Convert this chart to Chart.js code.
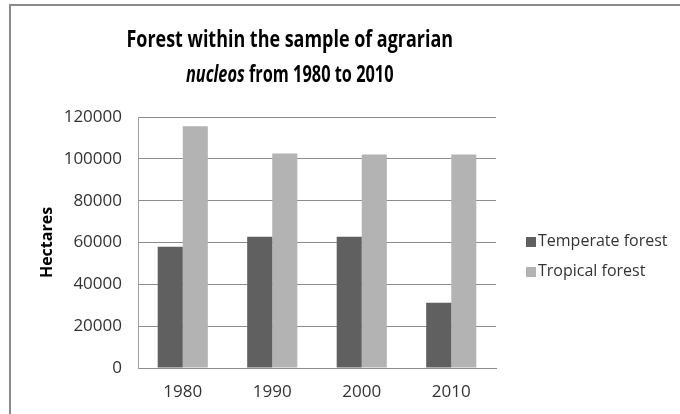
<!DOCTYPE html>
<html>
<head>
<meta charset="utf-8">
<script src="https://cdn.jsdelivr.net/npm/chart.js@4.4.0/dist/chart.umd.min.js"></script>
<style>
  html, body { margin: 0; padding: 0; background: #fff; }
  #wrap { position: relative; width: 680px; height: 414px; overflow: hidden; font-family: "Open Sans", sans-serif; }
  #frame { position: absolute; left: 9px; top: 4px; width: 700px; height: 430px; border: 2px solid #8a8a8a; box-sizing: border-box; }
  #title { position: absolute; left: 0; top: 21px; width: 580px; text-align: center; font-weight: bold; font-size: 23px; line-height: 35px; color: #000; }
  #title div { transform-origin: 289px 0; }
  #title .l1 { transform: scaleX(0.78); }
  #title .l2 { transform: scaleX(0.71); }
  #legend { position: absolute; left: 526px; top: 228px; font-size: 16px; color: #333; }
  #legend div { height: 30px; line-height: 24px; white-space: nowrap; }
  #legend span { display: inline-block; width: 10px; height: 10px; margin-right: 2px; vertical-align: -1px; }
  canvas { position: absolute; left: 0; top: 0; }
</style>
</head>
<body>
<div id="wrap">
  <div id="frame"></div>
  <canvas id="forest_chart" width="680" height="414"></canvas>
  <div id="title">
    <div class="l1">Forest within the sample of agrarian</div>
    <div class="l2"><i>nucleos</i> from 1980 to 2010</div>
  </div>
  <div id="legend"></div>
</div>
<script>
const years = ['1980', '1990', '2000', '2010'];
const temperate_forest = [58000, 62800, 62800, 31200];
const tropical_forest = [115600, 102600, 102100, 102100];
const y_ticks = [0, 20000, 40000, 60000, 80000, 100000, 120000];

const series = [
    { label: 'Temperate forest', data: temperate_forest, color: '#606060' },
    { label: 'Tropical forest', data: tropical_forest, color: '#b3b3b3' }
];

const ctx = document.getElementById('forest_chart');
const forest_chart = new Chart(ctx, {
    type: 'bar',
    data: {
        labels: years,
        datasets: series.map(s => ({
            label: s.label,
            data: s.data,
            backgroundColor: s.color,
            borderWidth: 0,
            categoryPercentage: 0.56,
            barPercentage: 1.0
        }))
    },
    options: {
        responsive: false,
        animation: false,
        layout: {
            padding: { left: 0, right: 184, top: 117, bottom: 0 }
        },
        scales: {
            x: {
                grid: { display: false, drawTicks: false },
                border: { display: true, color: '#8c8c8c', width: 1 },
                ticks: {
                    color: '#333',
                    padding: 14,
                    font: { family: 'Open Sans', size: 17 }
                },
                afterFit: (scale) => { scale.height = 46; }
            },
            y: {
                min: 0,
                max: y_ticks[y_ticks.length - 1],
                afterBuildTicks: (scale) => { scale.ticks = y_ticks.map(v => ({ value: v })); },
                grid: { color: '#8c8c8c', drawTicks: false },
                border: { display: true, color: '#a0a0a0', width: 1 },
                ticks: {
                    color: '#333',
                    padding: 16,
                    font: { family: 'Open Sans', size: 17 },
                    callback: (value) => String(value)
                },
                title: {
                    display: true,
                    text: 'Hectares',
                    color: '#000',
                    padding: { top: 38, bottom: 0 },
                    font: { family: 'Open Sans', size: 16, weight: 'bold' }
                },
                afterFit: (scale) => { scale.width = 138; }
            }
        },
        plugins: {
            legend: { display: false },
            tooltip: { enabled: false }
        }
    }
});

// legend beside the plot, built from the same series
const legend = document.getElementById('legend');
series.forEach(s => {
    const row = document.createElement('div');
    const box = document.createElement('span');
    box.style.background = s.color;
    row.appendChild(box);
    row.appendChild(document.createTextNode(s.label));
    legend.appendChild(row);
});
</script>
</body>
</html>
